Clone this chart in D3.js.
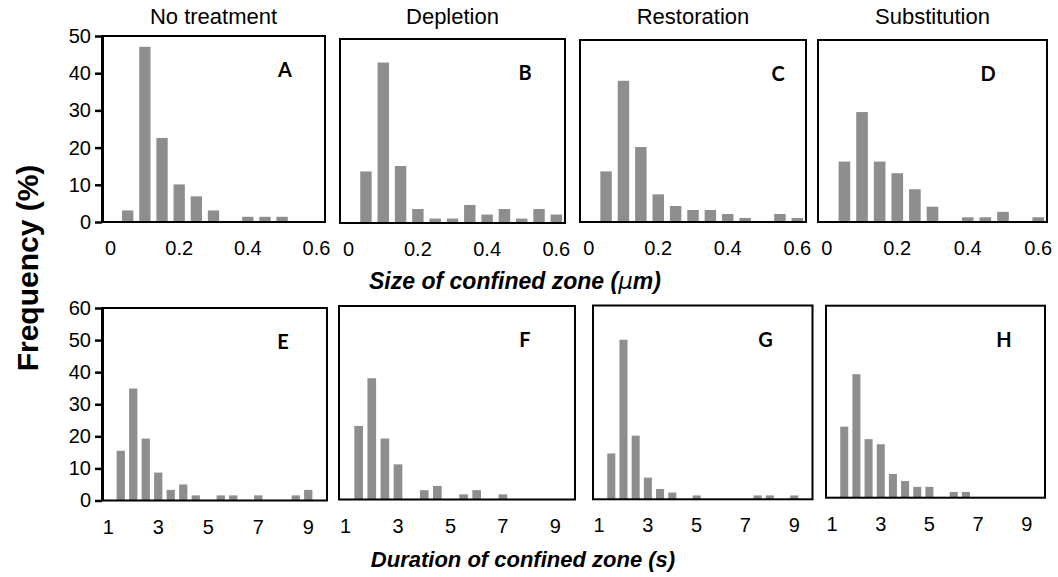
<!DOCTYPE html>
<html>
<head>
<meta charset="utf-8">
<script src="https://cdn.jsdelivr.net/npm/d3@7"></script>
<style>
  html, body { margin: 0; padding: 0; background: #fff; }
  svg { display: block; }
  .tick text { font-family: "Liberation Sans", Arial, sans-serif; }
</style>
</head>
<body>
<svg id="chart" width="1058" height="577"></svg>
<script>
// Size bins (µm) and frequencies (%)
const sizeBins = ["0", "0.05", "0.1", "0.15", "0.2", "0.25", "0.3", "0.35", "0.4", "0.45", "0.5", "0.55", "0.6"];
const sizeTickLabels = ["0", "0.2", "0.4", "0.6"];
const sizeNoTreatment  = [0, 3.1, 47.1, 22.6, 10.1, 6.9, 3.1, 0, 1.4, 1.4, 1.4, 0, 0];
const sizeDepletion    = [0, 14.0, 43.6, 15.5, 3.8, 1.2, 1.2, 4.9, 2.3, 3.8, 1.2, 3.8, 2.3];
const sizeRestoration  = [0, 13.9, 38.8, 20.6, 7.6, 4.4, 3.3, 3.3, 2.2, 1.1, 0, 2.2, 1.1];
const sizeSubstitution = [0, 16.6, 30.2, 16.6, 13.4, 9.0, 4.2, 0, 1.3, 1.3, 2.8, 0, 1.3];

// Duration bins (s) and frequencies (%)
const durBins = ["1", "1.5", "2", "2.5", "3", "3.5", "4", "4.5", "5", "5.5", "6", "6.5", "7", "7.5", "8", "8.5", "9", "9.5"];
const durTickLabels = ["1", "3", "5", "7", "9"];
const durNoTreatment  = [0, 15.5, 34.9, 19.3, 8.7, 3.3, 5.0, 1.6, 0, 1.6, 1.6, 0, 1.6, 0, 0, 1.6, 3.3, 0];
const durDepletion    = [0, 22.8, 37.6, 18.9, 10.9, 0, 2.9, 4.2, 0, 1.6, 2.9, 0, 1.6, 0, 0, 0, 0, 0];
const durRestoration  = [0, 14.2, 49.4, 19.7, 6.7, 3.2, 2.1, 0, 1.2, 0, 0, 0, 0, 1.2, 1.2, 0, 1.2, 0];
const durSubstitution = [0, 22.2, 38.6, 18.3, 16.7, 7.4, 5.2, 3.4, 3.4, 0, 1.8, 1.8, 0, 0, 0, 0, 0, 0];

const treatments = ["No treatment", "Depletion", "Restoration", "Substitution"];
const panelLetters = ["A", "B", "C", "D", "E", "F", "G", "H"];
const sizeMax = 50, durMax = 60;
const sizeYTicks = [0, 10, 20, 30, 40, 50];
const durYTicks = [0, 10, 20, 30, 40, 50, 60];

// Plot frames: [left, top, right, bottom]
const topFrames = [[102, 36, 325, 222], [340, 39, 565, 223], [580, 40, 806, 222], [818, 40, 1047, 222]];
const bottomFrames = [[102, 308, 327, 500.5], [339, 306, 575, 499.5], [593, 305.5, 812.5, 499.3], [826, 305.7, 1045, 497.7]];
// letter positions relative to frame right edge
const topLetterOffsets = [40, 40, 28, 59];
const bottomLetterOffsets = [44, 50, 47, 41];

const svg = d3.select("#chart");
const FONT = "'Liberation Sans', Arial, Helvetica, sans-serif";
const BAR = "#8e8e8e";

const panels = [];
[sizeNoTreatment, sizeDepletion, sizeRestoration, sizeSubstitution].forEach((vals, i) => {
  panels.push({ frame: topFrames[i], cats: sizeBins, vals, max: sizeMax, yTicks: sizeYTicks,
    xTicks: sizeTickLabels, letter: panelLetters[i], letterDx: topLetterOffsets[i], showY: i === 0 });
});
[durNoTreatment, durDepletion, durRestoration, durSubstitution].forEach((vals, i) => {
  panels.push({ frame: bottomFrames[i], cats: durBins, vals, max: durMax, yTicks: durYTicks,
    xTicks: durTickLabels, letter: panelLetters[i + 4], letterDx: bottomLetterOffsets[i], showY: i === 0 });
});

panels.forEach(p => {
  const [l, t, r, b] = p.frame;
  const g = svg.append("g");
  const x = d3.scaleBand().domain(p.cats).range([l, r]).paddingInner(0.34).paddingOuter(0.17);
  const y = d3.scaleLinear().domain([0, p.max]).range([b, t]);

  g.selectAll("rect.bar")
    .data(p.cats.map((c, i) => ({ c, v: p.vals[i] })).filter(d => d.v > 0))
    .join("rect")
    .attr("class", "bar")
    .attr("x", d => x(d.c))
    .attr("width", x.bandwidth())
    .attr("y", d => y(d.v))
    .attr("height", d => y(0) - y(d.v))
    .attr("fill", BAR);

  g.append("rect")
    .attr("x", l).attr("y", t)
    .attr("width", r - l).attr("height", b - t)
    .attr("fill", "none").attr("stroke", "#000").attr("stroke-width", 2);

  // category axis with sparse labels
  const xAxis = d3.axisBottom(x).tickValues(p.xTicks).tickSize(0).tickPadding(19);
  const xg = g.append("g").attr("transform", `translate(0,${b})`).call(xAxis);
  xg.select(".domain").remove();
  xg.selectAll("text").attr("font-size", 20).attr("fill", "#000").attr("font-family", FONT);

  if (p.showY) {
    const yAxis = d3.axisLeft(y).tickValues(p.yTicks).tickSize(7).tickSizeOuter(0).tickPadding(4);
    const yg = g.append("g").attr("transform", `translate(${l},0)`).call(yAxis);
    yg.select(".domain").attr("stroke-width", 3);
    yg.selectAll(".tick line").attr("stroke-width", 2.5);
    yg.selectAll("text").attr("font-size", 20).attr("fill", "#000").attr("font-family", FONT);
  }

  g.append("text")
    .attr("x", r - p.letterDx).attr("y", t + 41)
    .attr("text-anchor", "middle")
    .attr("font-family", "Lato, 'Open Sans', sans-serif")
    .attr("font-weight", 700).attr("font-size", 20)
    .text(p.letter);
});

// column titles
topFrames.forEach((f, i) => {
  svg.append("text")
    .attr("x", (f[0] + f[2]) / 2).attr("y", 24)
    .attr("text-anchor", "middle")
    .attr("font-family", FONT).attr("font-size", 22)
    .text(treatments[i]);
});

// axis titles
svg.append("text")
  .attr("transform", "translate(38,268) rotate(-90)")
  .attr("text-anchor", "middle")
  .attr("font-family", FONT).attr("font-weight", 700).attr("font-size", 30)
  .text("Frequency (%)");

const sizeTitle = svg.append("text")
  .attr("x", 515).attr("y", 289)
  .attr("text-anchor", "middle")
  .attr("font-family", FONT).attr("font-weight", 700).attr("font-style", "italic").attr("font-size", 23);
sizeTitle.append("tspan").text("Size of confined zone (");
sizeTitle.append("tspan").attr("font-family", "'DejaVu Sans', sans-serif").attr("font-weight", 400).text("\u03bc");
sizeTitle.append("tspan").text("m)");

svg.append("text")
  .attr("x", 523).attr("y", 567)
  .attr("text-anchor", "middle")
  .attr("font-family", FONT).attr("font-weight", 700).attr("font-style", "italic").attr("font-size", 22)
  .text("Duration of confined zone (s)");
</script>
</body>
</html>
